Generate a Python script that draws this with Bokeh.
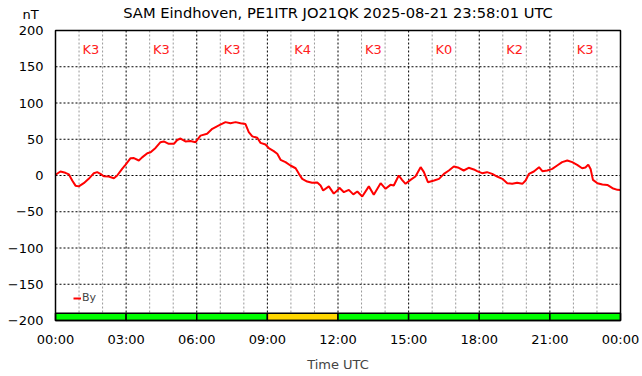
from bokeh.plotting import figure
from bokeh.models import Range1d, FixedTicker, Label, Legend, LegendItem
from bokeh.embed import file_html
from bokeh.resources import INLINE

# ---- data ----
hours = [0, 0.21, 0.42, 0.57, 0.71, 0.85, 0.99, 1.2, 1.41, 1.63, 1.77, 1.91, 2.05, 2.26, 2.48, 2.62,
         2.83, 2.97, 3.19, 3.33, 3.54, 3.68, 3.9, 4.04, 4.25, 4.46, 4.6, 4.81, 5.03, 5.17, 5.31,
         5.52, 5.73, 5.95, 6.02, 6.16, 6.44, 6.66, 6.94, 7.22, 7.43, 7.65, 7.86, 8.07, 8.21, 8.36,
         8.57, 8.71, 8.92, 9.06, 9.27, 9.42, 9.56, 9.77, 9.98, 10.2, 10.34, 10.48, 10.69, 10.9,
         11.12, 11.26, 11.37, 11.61, 11.82, 11.97, 12.06, 12.25, 12.46, 12.65, 12.82, 13.03,
         13.31, 13.52, 13.81, 14.02, 14.23, 14.37, 14.58, 14.72, 14.87, 15.08, 15.29, 15.51,
         15.65, 15.82, 16.08, 16.29, 16.5, 16.71, 16.92, 17.13, 17.34, 17.55, 17.77, 17.91,
         18.12, 18.33, 18.55, 18.76, 18.98, 19.19, 19.4, 19.61, 19.83, 19.97, 20.11, 20.32,
         20.54, 20.68, 20.89, 21.1, 21.31, 21.52, 21.74, 21.95, 22.16, 22.37, 22.51, 22.63,
         22.73, 22.83, 23.02, 23.23, 23.44, 23.66, 23.87, 24.0]
by_nt = [1, 5.5, 3.7, 1.5, -7, -14, -15, -10.6, -4.6, 3.2, 4.6, 2.3, -1, -1.4, -3.7, 0,
         9.2, 14.7, 23.9, 24, 20.7, 25, 30.8, 32, 38, 46, 47, 43.7, 43.7, 49, 51,
         47, 47.5, 46, 49, 55, 57.5, 64.4, 69, 73.6, 72, 73.6, 72, 71, 59.8, 54,
         52, 45, 42.8, 37.7, 33.6, 29.9, 21.6, 18.4, 13.8, 10, 2.3, -4.6, -8.3, -10,
         -9.6, -13.8, -20.7, -15, -25, -20.7, -17, -23, -19.8, -26, -22, -29,
         -15, -26.7, -10.6, -18.4, -12.9, -13.8, 0, -6, -11.5, -6, -1.4, 11.5,
         4.6, -9.2, -6.9, -4.6, 2.3, 6.9, 12.4, 10.6, 6.9, 10.6, 8.3, 6,
         3.2, 4.6, 2.3, -1.4, -4.6, -10.6, -11.5, -10, -11.5, -6.9, 2.3, 5.5,
         11.5, 6, 6.9, 9.2, 13.8, 18.4, 20.7, 18.4, 14.7, 10, 11, 15,
         9, -6, -10.6, -12.4, -13, -17.5, -19.8, -20]

k_start = [0, 3, 6, 9, 12, 15, 18, 21]
k_index = [3, 3, 3, 4, 3, 0, 2, 3]
k_labels = ["K%d" % k for k in k_index]
k_colors = ["#ffd700" if k >= 4 else "#00ff00" for k in k_index]

x_ticks = [0, 3, 6, 9, 12, 15, 18, 21, 24]
x_minor = [h for h in range(25) if h % 3]
x_tick_labels = ["00:00", "03:00", "06:00", "09:00", "12:00", "15:00", "18:00", "21:00", "00:00"]
y_ticks = [-200, -150, -100, -50, 0, 50, 100, 150, 200]

title_text = "SAM Eindhoven, PE1ITR JO21QK 2025-08-21 23:58:01 UTC"
unit_text = "nT"
FONT = "DejaVu Sans"

X0, X1 = 0, 24          # plotted time span (hours)
Y0, Y1 = -200, 200      # plotted field span (nT)

# canvas geometry: chart box 55..620 px horizontally, 30..320 px vertically
W, H = 642, 376
BOX_L, BOX_R, BOX_T, BOX_B = 55, 620, 30, 320
px_per_h = (BOX_R - BOX_L) / (X1 - X0)
px_per_nt = (BOX_B - BOX_T) / (Y1 - Y0)

p = figure(width=W, height=H, output_backend="svg", toolbar_location=None,
           x_range=Range1d(X0 - BOX_L / px_per_h, X1 + (W - BOX_R) / px_per_h),
           y_range=Range1d(Y0 - (H - BOX_B) / px_per_nt, Y1 + BOX_T / px_per_nt))
p.min_border = 0
p.background_fill_color = "white"
p.border_fill_color = "white"
p.outline_line_color = None
p.title.visible = False
p.xgrid.visible = False
p.ygrid.visible = False

# axes
p.xaxis.ticker = FixedTicker(ticks=x_ticks)
p.xaxis.major_label_overrides = {t: l for t, l in zip(x_ticks, x_tick_labels)}
p.xaxis.bounds = (X0, X1)
p.xaxis.fixed_location = Y0
p.yaxis.ticker = FixedTicker(ticks=y_ticks)
p.yaxis.bounds = (Y0, Y1)
p.yaxis.fixed_location = X0
for ax in (p.xaxis, p.yaxis):
    ax.major_tick_line_color = None
    ax.minor_tick_line_color = None
    ax.major_tick_out = 0
    ax.major_tick_in = 0
    ax.axis_line_color = None
    ax.major_label_text_font = FONT
    ax.major_label_text_font_size = "13px"
    ax.major_label_text_color = "black"
p.yaxis.major_label_standoff = 12
p.xaxis.major_label_standoff = 11
p.xaxis.axis_label = "Time UTC"
p.xaxis.axis_label_text_font = FONT
p.xaxis.axis_label_text_font_size = "13px"
p.xaxis.axis_label_text_font_style = "normal"
p.xaxis.axis_label_standoff = 7

# grid lines, limited to the chart box
p.segment(x0=x_minor, x1=x_minor, y0=Y0, y1=Y1, line_color="#999999", line_dash="2 2", line_width=1)
p.segment(x0=x_ticks, x1=x_ticks, y0=Y0, y1=Y1, line_color="black", line_dash="2 2", line_width=1)
p.segment(x0=X0, x1=X1, y0=y_ticks, y1=y_ticks, line_color="black", line_dash="2 2", line_width=1)

# K index bars
p.quad(left=k_start, right=[s + 3 for s in k_start], bottom=Y0, top=-190,
       fill_color=k_colors, line_color="black", line_width=1.5)

# K labels
for s, lab in zip(k_start, k_labels):
    p.add_layout(Label(x=s + 1.5, y=174, text=lab, text_align="center", text_baseline="middle",
                       text_font=FONT, text_font_size="13px", text_color="#ff2020"))

# data line
r = p.line(hours, by_nt, line_color="#ff0000", line_width=2)

# chart box
p.quad(left=X0, right=X1, bottom=Y0, top=Y1, fill_color=None, line_color="black", line_width=1.5)

legend = Legend(items=[LegendItem(label="By", renderers=[r])], location=(BOX_L + 18, (H - BOX_B) + 16),
                glyph_width=8, glyph_height=10, label_text_font=FONT, label_text_font_size="11px",
                border_line_color=None, background_fill_alpha=0, padding=0, margin=0,
                label_standoff=1, spacing=0)
p.add_layout(legend)

# title and unit label above the chart box
p.add_layout(Label(x=(X0 + X1) / 2, y=Y1 + 18 / px_per_nt, text=title_text,
                   text_align="center", text_baseline="middle",
                   text_font=FONT, text_font_size="14.7px", text_color="black"))
p.add_layout(Label(x=X0 - 25 / px_per_h, y=Y1 + 16 / px_per_nt, text=unit_text,
                   text_align="center", text_baseline="middle",
                   text_font=FONT, text_font_size="13px", text_color="black"))

open("out.html", "w").write(file_html(p, INLINE))
